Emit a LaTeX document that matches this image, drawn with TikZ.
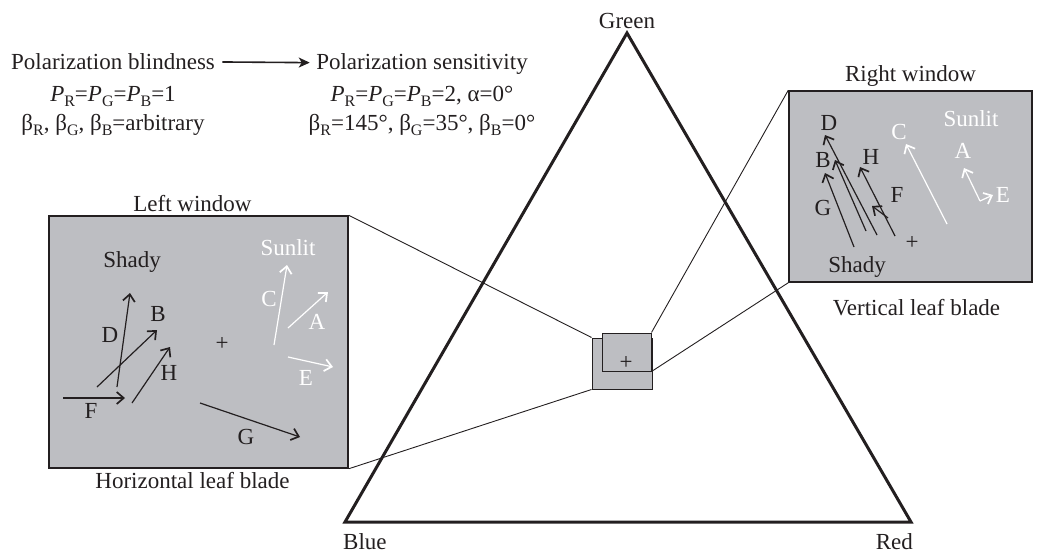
\documentclass[tikz,border=0pt]{standalone}
\usepackage{fontspec}
\setmainfont{Liberation Serif}
\usetikzlibrary{arrows.meta, positioning}

\definecolor{winfill}{RGB}{189,190,194}
\definecolor{ink}{RGB}{35,31,32}
\newcommand\sub[1]{\raisebox{-0.22em}{\fontsize{16}{16}\selectfont #1}}
\newcommand\pol[1]{\textit{P}\sub{#1}}
\newcommand\bet[1]{β\sub{#1}}

\tikzset{
  window/.style={draw=ink, line width=1.5pt, fill=winfill, inner sep=0pt},
  smallwin/.style={window, line width=1pt},
  zoomline/.style={draw=ink, line width=0.9pt},
  vec/.style={line width=1.2pt, -{Straight Barb[length=7pt,width=12pt,line width=1.7pt]}},
}

\begin{document}
\begin{tikzpicture}[x=1pt, y=-1pt, font=\fontsize{23}{28}\selectfont, text=ink]
\useasboundingbox (0,0) rectangle (1037,554);

\node[anchor=base] (blind) at (113,69) {Polarization blindness};
\node[anchor=base] at (113,101) {\pol{R}=\pol{G}=\pol{B}=1};
\node[anchor=base] at (113,130) {\bet{R}, \bet{G}, \bet{B}=arbitrary};

\node[anchor=base] (sens) at (422,69) {Polarization sensitivity};
\node[anchor=base] at (422,101) {\pol{R}=\pol{G}=\pol{B}=2, α=0°};
\node[anchor=base] at (422,130) {\bet{R}=145°, \bet{G}=35°, \bet{B}=0°};

\draw[ink, line width=1.6pt, shorten <=4pt, shorten >=3pt,
  -{Stealth[length=11pt,width=10pt,inset=3pt]}] (blind) -- (sens);

\coordinate (green) at (627,33);
\coordinate (blue) at (345,522);
\coordinate (red) at (911,522);
\draw[ink, line width=3pt] (green) -- (blue) -- (red) -- cycle;
\node[anchor=base] at (627,28) {Green};
\node[anchor=base west, inner sep=0pt] at (343,549) {Blue};
\node[anchor=base east, inner sep=0pt] at (913,549) {Red};

\node[window, minimum width=299pt, minimum height=252pt] (lwin) at (198.5,342) {};
\node[window, minimum width=243pt, minimum height=191pt] (rwin) at (910.5,186.5) {};
\node[smallwin, minimum width=60pt, minimum height=51pt] (lsmall) at (622,363.5) {};
\node[smallwin, minimum width=49pt, minimum height=38pt] (rsmall) at (626.5,352) {};
\node at (626,363) {+};

\draw[zoomline] (lwin.north east) -- (lsmall.north west);
\draw[zoomline] (lwin.south east) -- (lsmall.south west);
\draw[zoomline] (rwin.north west) -- (rsmall.north east);
\draw[zoomline] (rwin.south west) -- (rsmall.south east);

\node[above=0pt of lwin, xshift=-6pt] {Left window};
\node[below=0pt of lwin, xshift=-6pt] {Horizontal leaf blade};
\node[above=0pt of rwin] {Right window};
\node[below=13pt of rwin, xshift=6pt] {Vertical leaf blade};

\node at (132,262) {Shady};
\node[text=white] at (288,248) {Sunlit};
\node at (222,344) {+};
\foreach \sx/\sy/\ex/\ey/\name/\lx/\ly in {117/387/130/293/D/110/335, 97/387/157/330/B/158/314,
    132/403/170/347/H/169/373, 63/398/125/398/F/91/411, 200/403/300/437/G/246/437} {
  \draw[vec, ink] (\sx,\sy) -- (\ex,\ey);
  \node at (\lx,\ly) {\name};
}
\foreach \sx/\sy/\ex/\ey/\name/\lx/\ly in {274/345/287/265/C/269/299, 288/328/328/292/A/317/322,
    288/357/333/367/E/306/378} {
  \draw[vec, white] (\sx,\sy) -- (\ex,\ey);
  \node[text=white] at (\lx,\ly) {\name};
}

\node at (857,267) {Shady};
\node[text=white] at (971,119) {Sunlit};
\node at (912,243) {+};
\foreach \sx/\sy/\ex/\ey/\name/\lx/\ly in {877/235/825/135/D/829/123, 866/231/835/160/B/823/160,
    854/247/825/173/G/823/208, 895/236/860/167/H/871/157, 888/218/872/206/F/897/195} {
  \draw[vec, ink] (\sx,\sy) -- (\ex,\ey);
  \node at (\lx,\ly) {\name};
}
\foreach \sx/\sy/\ex/\ey/\name/\lx/\ly in {947/224/906/144/C/899/132, 980/201/964/168/A/963/151,
    980/201/993/195/E/1003/195} {
  \draw[vec, white] (\sx,\sy) -- (\ex,\ey);
  \node[text=white] at (\lx,\ly) {\name};
}
\end{tikzpicture}
\end{document}
